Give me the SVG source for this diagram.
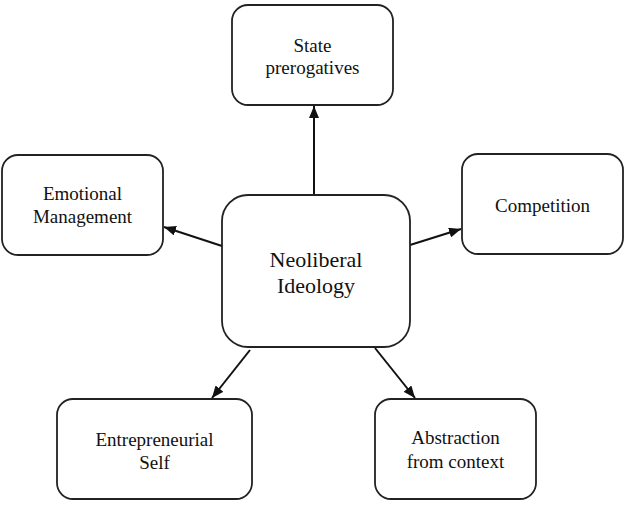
<svg xmlns="http://www.w3.org/2000/svg" width="630" height="506" viewBox="0 0 630 506">
<style>
.box{fill:#fff;stroke:#222;stroke-width:1.8}
text{font-family:'Liberation Serif','Times New Roman','DejaVu Serif',serif;font-size:19px;fill:#111;text-anchor:middle}
.big{font-size:22px}
.c{stroke:#111;stroke-width:2;fill:none;marker-end:url(#ah)}
</style>
<defs>
<marker id="ah" viewBox="0 0 12 10" refX="12" refY="5" markerWidth="12" markerHeight="10" markerUnits="userSpaceOnUse" orient="auto">
<path d="M0,0 L12,5 L0,10 z" fill="#111"/>
</marker>
</defs>
<rect width="630" height="506" fill="#fff"/>
<g id="connectors">
<line class="c" x1="314" y1="195" x2="314" y2="106"/>
<line class="c" x1="222" y1="246" x2="164" y2="227"/>
<line class="c" x1="410" y1="245" x2="461" y2="229"/>
<line class="c" x1="250" y1="350" x2="212" y2="398"/>
<line class="c" x1="375" y1="348" x2="415" y2="398"/>
</g>
<g id="n-state">
<rect class="box" x="232" y="5" width="161" height="100" rx="16"/>
<text font-family="Liberation Serif, serif" x="312.5" y="52">State</text>
<text font-family="Liberation Serif, serif" x="312.5" y="74">prerogatives</text>
</g>
<g id="n-emotional">
<rect class="box" x="2" y="155" width="161" height="100" rx="16"/>
<text font-family="Liberation Serif, serif" x="82.5" y="200">Emotional</text>
<text font-family="Liberation Serif, serif" x="82.5" y="223">Management</text>
</g>
<g id="n-neoliberal">
<rect class="box" x="222" y="195" width="188" height="152" rx="26"/>
<text class="big" font-family="Liberation Serif, serif" x="316" y="267">Neoliberal</text>
<text class="big" font-family="Liberation Serif, serif" x="316" y="293">Ideology</text>
</g>
<g id="n-competition">
<rect class="box" x="462" y="154" width="161" height="100" rx="16"/>
<text font-family="Liberation Serif, serif" x="542.5" y="212">Competition</text>
</g>
<g id="n-entrepreneurial">
<rect class="box" x="57" y="399" width="195" height="100" rx="16"/>
<text font-family="Liberation Serif, serif" x="154.5" y="446">Entrepreneurial</text>
<text font-family="Liberation Serif, serif" x="154.5" y="469">Self</text>
</g>
<g id="n-abstraction">
<rect class="box" x="375" y="399" width="161" height="100" rx="16"/>
<text font-family="Liberation Serif, serif" x="455.5" y="444">Abstraction</text>
<text font-family="Liberation Serif, serif" x="455.5" y="468">from context</text>
</g>
</svg>
